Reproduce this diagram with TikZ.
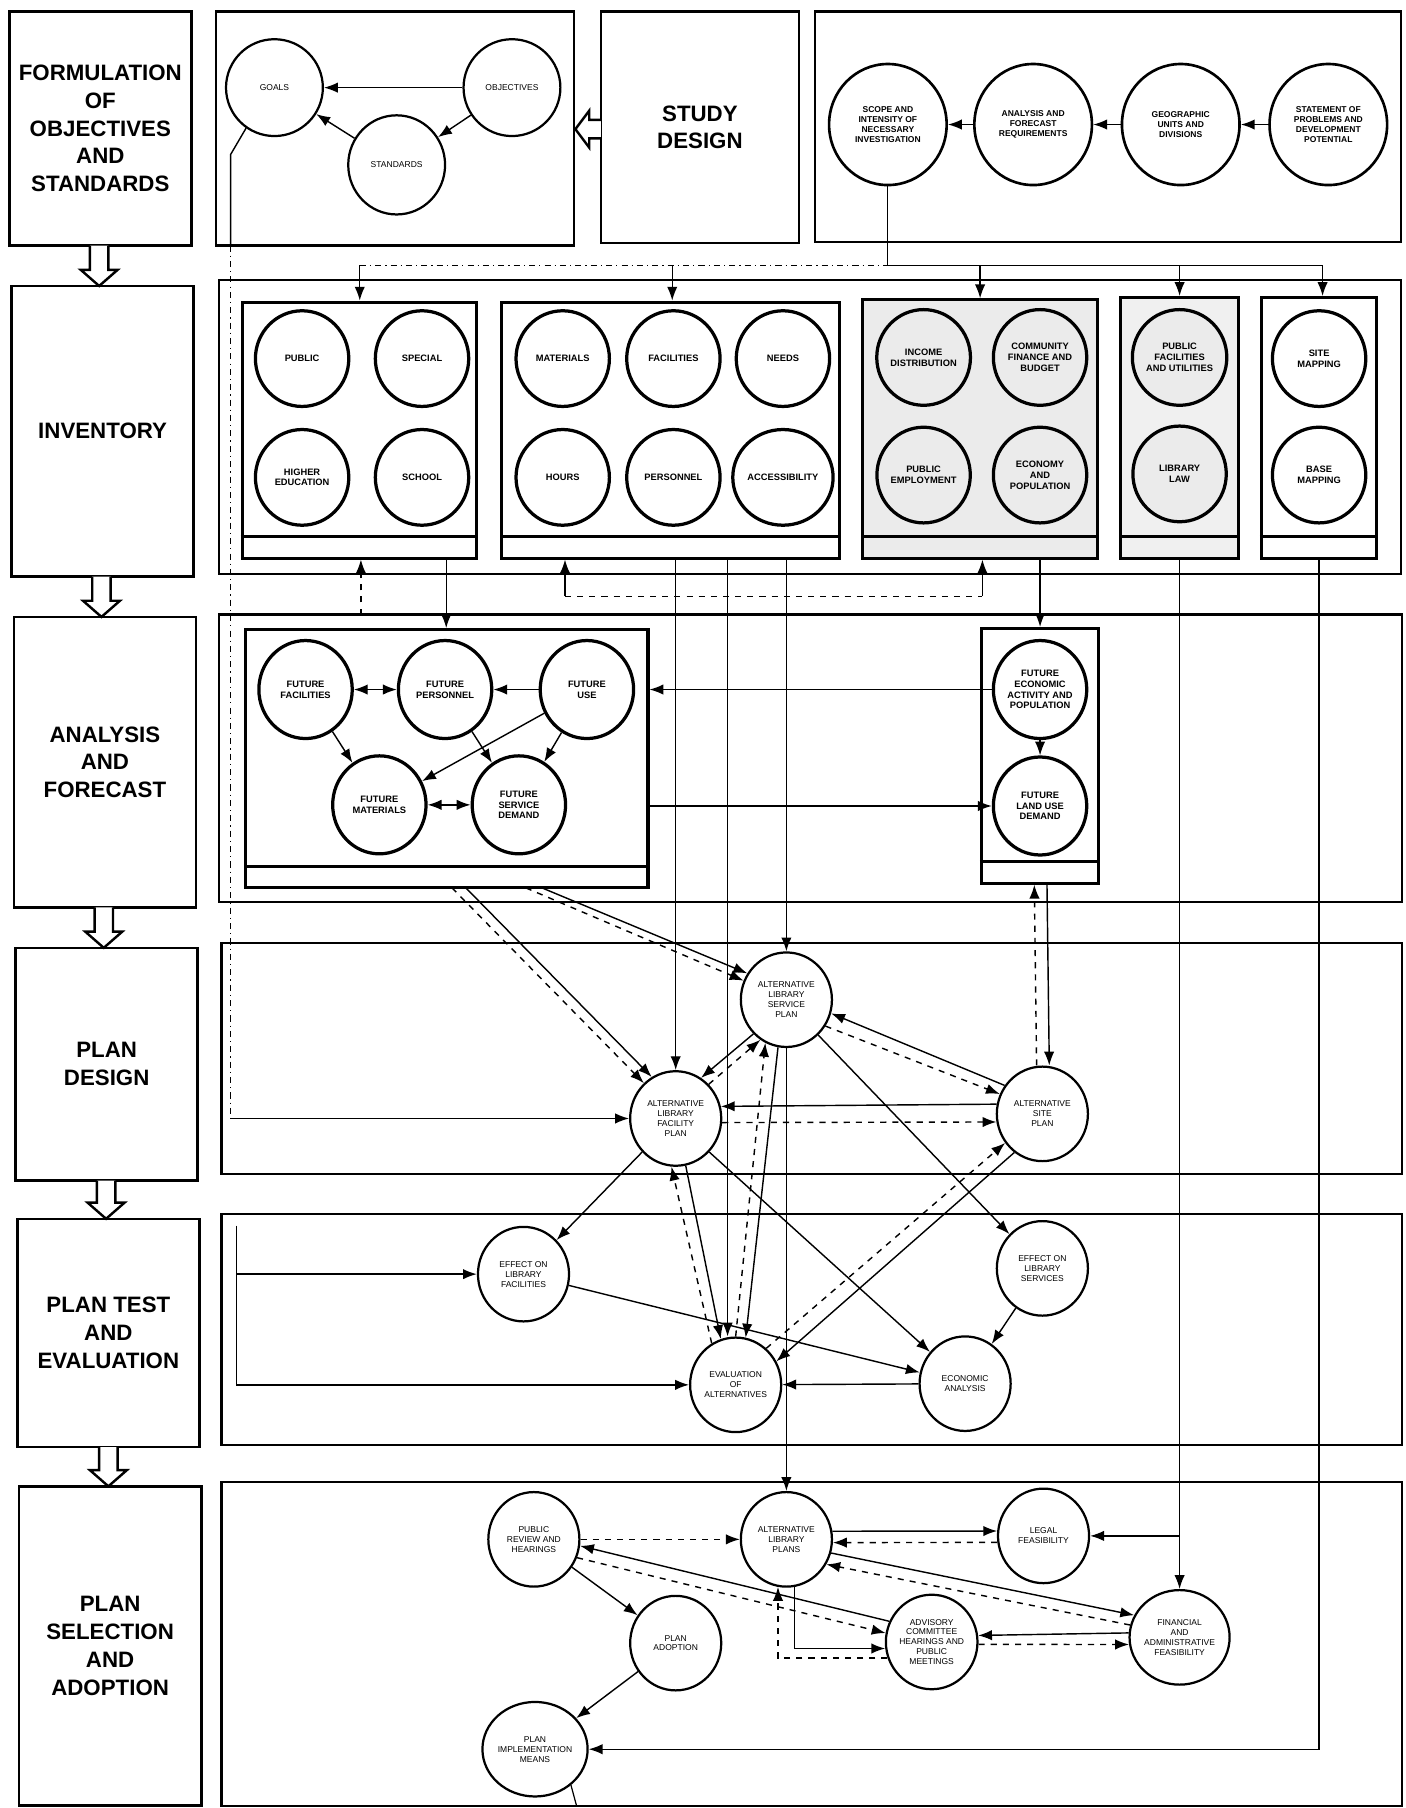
\documentclass[tikz,border=0pt]{standalone}
\usepackage{fontspec}
\setmainfont{Liberation Sans}
\usetikzlibrary{arrows.meta,shapes.geometric}

\newcommand{\stagefont}{\fontsize{11}{13.7}\selectfont\bfseries}
\newcommand{\tinyfont}{\fontsize{4.2}{4.9}\selectfont}
\newcommand{\smallbold}{\fontsize{4.6}{5.3}\selectfont\bfseries}

\begin{document}
\begin{tikzpicture}[
  x=0.02cm, y=-0.02cm,
  stage/.style={draw, line width=1.3pt, align=center, font=\stagefont, minimum width=3.16cm},
  lane/.style={draw, line width=1.1pt},
  subbox/.style={draw, line width=1.5pt, inner sep=0pt},
  incirc/.style={ellipse, draw, line width=1.6pt, fill=white, minimum width=1.62cm, minimum height=1.66cm, inner sep=0pt, align=center, font=\smallbold},
  topcirc/.style={ellipse, draw, line width=1.3pt, fill=white, minimum width=2.04cm, minimum height=2.1cm, inner sep=0pt, align=center, font=\tinyfont\bfseries},
  plancirc/.style={ellipse, draw, line width=1.1pt, fill=white, minimum width=1.58cm, minimum height=1.64cm, inner sep=0pt, align=center, font=\tinyfont},
  flow/.style={-{Latex[length=2.4mm,width=1.8mm]}, line width=0.7pt},
  twoway/.style={{Latex[length=2.4mm,width=1.8mm]}-{Latex[length=2.4mm,width=1.8mm]}, line width=0.7pt},
  hollow/.style={draw, line width=1.2pt, fill=white}
]
\useasboundingbox (0,0) rectangle (1219,1568);

% stage column
\node[stage, minimum height=4.06cm] (s1) at (87,111.5) {FORMULATION\\OF\\OBJECTIVES\\AND\\STANDARDS};
\node[stage, minimum height=5.04cm] (s2) at (89,374) {INVENTORY};
\node[stage, minimum height=5.04cm] (s3) at (91,661) {ANALYSIS\\AND\\FORECAST};
\node[stage, minimum height=4.04cm] (s4) at (92.5,923) {PLAN\\DESIGN};
\node[stage, minimum height=3.96cm] (s5) at (94,1156) {PLAN TEST\\AND\\EVALUATION};
\node[stage, minimum height=5.54cm] (s6) at (95.5,1427.5) {PLAN\\SELECTION\\AND\\ADOPTION};
\foreach \x/\ya/\yb in {86/213/248, 88/500/535, 90/787/822, 92/1024/1057, 94/1255/1289}
  \draw[hollow] (\x-8,\ya) -- (\x-8,\yb-14) -- (\x-16,\yb-14) -- (\x,\yb) -- (\x+16,\yb-14) -- (\x+8,\yb-14) -- (\x+8,\ya);

% objectives and standards
\draw[lane] (187,10) rectangle (498,213);
\node[plancirc, minimum width=1.68cm, minimum height=1.68cm] (goal) at (238,76) {GOALS};
\node[plancirc, minimum width=1.68cm, minimum height=1.68cm] (obj) at (444,76) {OBJECTIVES};
\node[plancirc, minimum width=1.68cm, minimum height=1.72cm] (std) at (344,143) {STANDARDS};
\draw[flow] (obj) -- (goal);
\draw[flow] (std) -- (goal);
\draw[flow] (obj) -- (std);
\node[draw, line width=1.2pt, minimum width=3.44cm, minimum height=4.02cm, font=\stagefont, align=center] (study) at (607,110.5) {STUDY\\DESIGN};
\draw[hollow] (521,104) -- (511,104) -- (511,96) -- (499,112) -- (511,128) -- (511,120) -- (521,120);
\draw[lane] (707,10) rectangle (1215,210);
\node[topcirc] (scope) at (770,108) {SCOPE AND\\INTENSITY OF\\NECESSARY\\INVESTIGATION};
\node[topcirc] (req) at (896,108) {ANALYSIS AND\\FORECAST\\REQUIREMENTS};
\node[topcirc] (geo) at (1024,108) {GEOGRAPHIC\\UNITS AND\\DIVISIONS};
\node[topcirc] (stat) at (1152,108) {STATEMENT OF\\PROBLEMS AND\\DEVELOPMENT\\POTENTIAL};
\draw[flow] (stat) -- (geo);
\draw[flow] (geo) -- (req);
\draw[flow] (req) -- (scope);

% inventory
\draw[lane] (190,243) rectangle (1215,498);
\node[subbox, minimum width=4.06cm, minimum height=4.44cm] (invA) at (311.5,373) {};
\node[subbox, minimum width=5.86cm, minimum height=4.44cm] (invB) at (581.5,373) {};
\node[subbox, fill=black!8, minimum width=4.08cm, minimum height=4.48cm] (invC) at (850,372) {};
\node[subbox, fill=black!6, minimum width=2.04cm, minimum height=4.52cm] (invD) at (1023,371) {};
\node[subbox, minimum width=2.0cm, minimum height=4.52cm] (invE) at (1144,371) {};
\foreach \n/\x/\y/\t in {pub/262/311/PUBLIC, spec/366/311/SPECIAL, higher/262/414/{HIGHER\\EDUCATION}, school/366/414/SCHOOL,
    mat/488/311/MATERIALS, facil/584/311/FACILITIES, needs/679/311/NEEDS, hours/488/414/HOURS, pers/584/414/PERSONNEL, access/679/414/ACCESSIBILITY,
    site/1144/311/{SITE\\MAPPING}, base/1144/412/{BASE\\MAPPING}}
  \node[incirc] (\n) at (\x,\y) {\t};
\foreach \n/\x/\y/\t in {income/801/310/{INCOME\\DISTRIBUTION}, finance/902/310/{COMMUNITY\\FINANCE AND\\BUDGET},
    employ/801/412/{PUBLIC\\EMPLOYMENT}, popul/902/412/{ECONOMY\\AND\\POPULATION},
    transp/1023/310/{PUBLIC\\FACILITIES\\AND UTILITIES}, law/1023/411/{LIBRARY\\LAW}}
  \node[incirc, fill=black!8] (\n) at (\x,\y) {\t};

% analysis and forecast
\draw[lane] (190,533) rectangle (1216,782);
\node[subbox, minimum width=6.98cm, minimum height=4.48cm] (anL) at (387.5,658) {};
\node[subbox, minimum width=2.04cm, minimum height=4.42cm] (anR) at (902,655.5) {};
\foreach \n in {invA,invB,invC,invD,invE,anL,anR}
  \draw[line width=1.5pt] ([yshift=0.4cm]\n.south west) -- ([yshift=0.4cm]\n.south east);
\foreach \n/\x/\y/\t in {ffac/265/598/{FUTURE\\FACILITIES}, fpers/386/598/{FUTURE\\PERSONNEL}, fuse/509/598/{FUTURE\\USE},
    fmat/329/698/{FUTURE\\MATERIALS}, fserv/450/698/{FUTURE\\SERVICE\\DEMAND},
    fecon/902/598/{FUTURE\\ECONOMIC\\ACTIVITY AND\\POPULATION}, fland/902/699/{FUTURE\\LAND USE\\DEMAND}}
  \node[incirc, minimum height=1.7cm] (\n) at (\x,\y) {\t};
\draw[twoway] (ffac) -- (fpers);
\draw[flow] (fuse) -- (fpers);
\draw[flow] (ffac) -- (fmat);
\draw[flow] (fpers) -- (fserv);
\draw[flow] (fuse) -- (fmat);
\draw[flow] (fuse) -- (fserv);
\draw[twoway] (fmat) -- (fserv);
\draw[flow] (fecon) -- (fecon -| anL.east);
\draw[flow] (fland -| anL.east) -- (fland);
\draw[flow] (fecon) -- (fland);

% plan design
\draw[lane] (192,818) rectangle (1216,1018);
\node[plancirc] (altsvc) at (682,867) {ALTERNATIVE\\LIBRARY\\SERVICE\\PLAN};
\node[plancirc] (altfac) at (586,970) {ALTERNATIVE\\LIBRARY\\FACILITY\\PLAN};
\node[plancirc] (altsite) at (904,966) {ALTERNATIVE\\SITE\\PLAN};

% plan test and evaluation
\draw[lane] (192,1053) rectangle (1216,1253);
\node[plancirc] (effac) at (454,1105) {EFFECT ON\\LIBRARY\\FACILITIES};
\node[plancirc] (efsvc) at (904,1100) {EFFECT ON\\LIBRARY\\SERVICES};
\node[plancirc] (evalu) at (638,1201) {EVALUATION\\OF\\ALTERNATIVES};
\node[plancirc] (econan) at (837,1200) {ECONOMIC\\ANALYSIS};

% plan selection and adoption
\draw[lane] (192,1285) rectangle (1216,1566);
\node[plancirc] (review) at (463,1335) {PUBLIC\\REVIEW AND\\HEARINGS};
\node[plancirc] (altplans) at (682,1335) {ALTERNATIVE\\LIBRARY\\PLANS};
\node[plancirc] (legal) at (905,1332) {LEGAL\\FEASIBILITY};
\node[plancirc] (adopt) at (586,1425) {PLAN\\ADOPTION};
\node[plancirc] (advis) at (808,1424) {ADVISORY\\COMMITTEE\\HEARINGS AND\\PUBLIC\\MEETINGS};
\node[plancirc] (fin) at (1023,1420) {FINANCIAL\\AND\\ADMINISTRATIVE\\FEASIBILITY};
\node[plancirc] (means) at (464,1517) {PLAN\\IMPLEMENTATION\\MEANS};

% study design to inventory
\coordinate (d0) at (770,230);
\coordinate (d1) at (312,230);
\coordinate (d2) at (583,230);
\coordinate (d3) at (850,230);
\coordinate (d5) at (1147,230);
\draw[line width=0.6pt] (scope) -- (d0) -- (d5);
\draw[line width=0.6pt, dash dot] (d1) -- (d0);
\draw[flow] (d1) -- (d1 |- invA.north);
\draw[flow] (d2) -- (d2 |- invB.north);
\draw[flow] (d3) -- (d3 |- invC.north);
\draw[flow] (invD.north |- d0) -- (invD.north);
\draw[flow] (d5) -- (d5 |- invE.north);

% feedback down the left side
\coordinate (fb0) at (200,134);
\coordinate (fb1) at (200,213);
\coordinate (fb2) at (200,970);
\draw[line width=0.7pt] (goal.235) -- (fb0) -- (fb1);
\draw[line width=0.6pt, dash dot] (fb1) -- (fb2);
\draw[flow] (fb2) -- (altfac);

% inventory to analysis and beyond
\coordinate (u1) at (313,533);
\coordinate (u2) at (387,484);
\draw[flow, dashed] (u1) -- (u1 |- invA.south);
\draw[flow] (u2) -- (u2 |- anL.north);
\coordinate (v1) at (490,517);
\coordinate (v2) at (852,517);
\draw[dashed, line width=0.6pt] (v1) -- (v2);
\draw[flow] (v1) -- (v1 |- invB.south);
\draw[flow] (v2) -- (v2 |- invC.south);
\coordinate (w1) at (586,484);
\coordinate (w2) at (631,484);
\coordinate (w3) at (682,484);
\draw[flow] (w1) -- (altfac);
\draw[flow] (w2) -- (w2 |- evalu.north);
\draw[flow] (w3) -- (altsvc);
\draw[flow] (invC.south -| anR.north) -- (anR.north);
\draw[flow] (invD.south) -- (fin);
\draw[flow] (invD.south |- legal) -- (legal);
\draw[flow] (invE.south) -- (invE.south |- means) -- (means);

% analysis to plan design
\coordinate (x1) at (392,770);
\coordinate (x2) at (404,770);
\coordinate (x3) at (456,770);
\coordinate (x4) at (470,770);
\draw[flow, dashed] (x1) -- (altfac.132);
\draw[flow] (x2) -- (altfac.120);
\draw[flow, dashed] (x3) -- (altsvc.156);
\draw[flow] (x4) -- (altsvc.146);
\draw[flow] ([xshift=0.12cm]anR.south) -- ([xshift=0.12cm]altsite.north);
\draw[flow, dashed] ([xshift=-0.1cm]altsite.north) -- ([xshift=-0.1cm]anR.south);

% plan design links
\draw[flow] (altsite.168) -- (altfac.15);
\draw[flow, dashed] (altfac.-5) -- (altsite.190);
\draw[flow] (altsite.143) -- (altsvc.-17);
\draw[flow, dashed] (altsvc.-34) -- (altsite.155);
\draw[flow] (altsvc.226) -- (altfac.58);
\draw[flow, dashed] (altfac.46) -- (altsvc.237);
\draw[flow] (altsvc.-48) -- (efsvc);
\draw[flow] (altfac.225) -- (effac);
\draw[flow] (altfac.-45) -- (econan);
\draw[flow] (altfac.-78) -- (evalu.108);
\draw[flow, dashed] (evalu.120) -- (altfac.-95);
\draw[flow] (altsvc.-100) -- (evalu.78);
\draw[flow, dashed] (evalu.90) -- (altsvc.-116);
\draw[flow] (altsite.234) -- (evalu.30);
\draw[flow, dashed] (evalu.50) -- (altsite.218);
\draw[flow] (altsvc) -- (altplans);

% plan test links
\coordinate (t0) at (205,1063);
\coordinate (t1) at (205,1201);
\draw[line width=0.6pt] (t0) -- (t1);
\draw[flow] (t0 |- effac) -- (effac);
\draw[flow] (t1) -- (evalu);
\draw[flow] (effac) -- (econan);
\draw[flow] (efsvc) -- (econan);
\draw[flow] (econan) -- (evalu);

% plan selection links
\draw[flow, dashed] (review) -- (altplans);
\draw[flow] (altplans.10) -- (legal.174);
\draw[flow, dashed] (legal.188) -- (altplans.-4);
\draw[flow] (altplans.-17) -- (fin.154);
\draw[flow, dashed] (fin.166) -- (altplans.-32);
\draw[flow] (advis.154) -- (review.-8);
\draw[flow, dashed] (review.-23) -- (advis.169);
\draw[flow] (review) -- (adopt);
\draw[flow] (adopt) -- (means);
\draw[flow] (altplans.-80) |- (advis.188);
\draw[flow, dashed] (advis.200) -| (altplans.-100);
\draw[flow] (fin.175) -- (advis.8);
\draw[flow, dashed] (advis.-3) -- (fin.188);
\coordinate (bb) at (500,1566);
\draw[line width=0.6pt] (means.-45) -- (bb);
\end{tikzpicture}
\end{document}
